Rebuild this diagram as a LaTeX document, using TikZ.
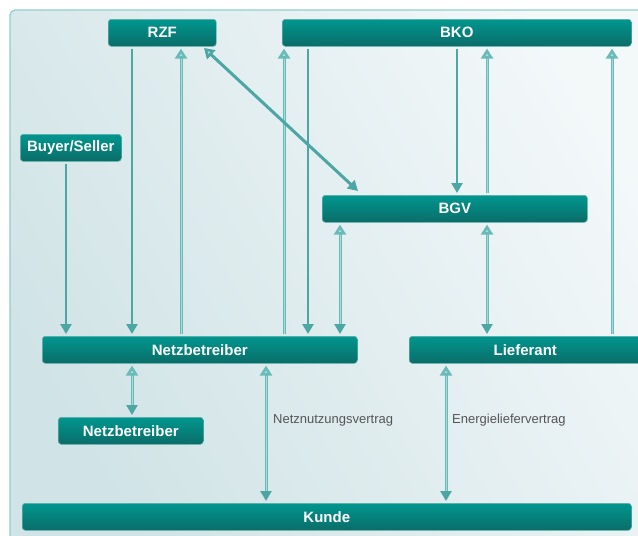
\documentclass[tikz,border=0pt]{standalone}
\usepackage{fontspec}
\setmainfont{Liberation Sans}
\usetikzlibrary{arrows.meta}
\definecolor{panelA}{HTML}{D0E3E6}
\definecolor{panelB}{HTML}{F3F8F9}
\definecolor{panelE}{HTML}{8ED0CD}
\definecolor{boxT}{HTML}{00978F}
\definecolor{boxB}{HTML}{0B6C68}
\definecolor{boxE}{HTML}{5FB0AD}
\definecolor{downC}{HTML}{4BA6A4}
\definecolor{upC}{HTML}{69BBB9}
\definecolor{upIn}{HTML}{A9DAD8}
\definecolor{lblC}{HTML}{555555}
\tikzset{
  x=1pt, y=-1pt,
  box/.style={rounded corners=3pt, top color=boxT, bottom color=boxB, draw=boxE, line width=0.6pt,
    text=white, font=\fontsize{15}{15}\selectfont\bfseries, inner sep=0pt,
    minimum height=27pt, anchor=north west},
  downar/.style={draw=downC, line width=2.6pt, shorten <=2pt, shorten >=2pt,
    -{Triangle[length=10pt,width=11pt]}},
  upar/.style={draw=upC, line width=3pt, shorten <=2pt, shorten >=2pt,
    -{Triangle[length=10pt,width=12pt,fill=upIn]},
    postaction={draw=upIn, line width=1pt, -, shorten >=12pt, shorten <=2pt}},
  bothar/.style={draw=upC, line width=3pt, shorten <=2pt, shorten >=2pt,
    {Triangle[length=10pt,width=12pt,fill=upIn]}-{Triangle[length=10pt,width=11pt,color=downC]},
    postaction={draw=upIn, line width=1pt, -, shorten >=12pt, shorten <=12pt}},
  diagar/.style={draw=downC, line width=3pt,
    {Triangle[length=10pt,width=12pt,fill=upIn]}-{Triangle[length=10pt,width=11pt]}},
  lbl/.style={text=lblC, font=\fontsize{13}{13}\selectfont, anchor=west, inner sep=0pt}
}
\begin{document}
\begin{tikzpicture}
\useasboundingbox (0,0) rectangle (638,536);
\fill[white] (0,0) rectangle (638,536);
\begin{scope}
\clip (0,0) rectangle (638,536);
\draw[panelE, line width=1.2pt, rounded corners=5pt, shading=axis, left color=panelA, right color=panelB, shading angle=120]
  (10,10) rectangle (660,560);
\end{scope}

% boxes
\node[box, minimum width=108pt] (rzf) at (108,19) {RZF};
\node[box, minimum width=349pt] (bko) at (282,19) {BKO};
\node[box, minimum width=101pt] (bs) at (20,134) {Buyer/Seller};
\node[box, minimum width=265pt] (bgv) at (322,195) {BGV};
\node[box, minimum width=315pt] (nb) at (42,336) {Netzbetreiber};
\node[box, minimum width=232pt] (lf) at (409,336) {Lieferant};
\node[box, minimum width=145pt] (nb2) at (58,417) {Netzbetreiber};
\node[box, minimum width=609pt] (kd) at (22,503) {Kunde};

% x positions
\coordinate (c66) at (66,0);
\coordinate (c132) at (132,0);
\coordinate (c181) at (181,0);
\coordinate (c266) at (266,0);
\coordinate (c284) at (284,0);
\coordinate (c308) at (308,0);
\coordinate (c340) at (340,0);
\coordinate (c446) at (446,0);
\coordinate (c457) at (457,0);
\coordinate (c487) at (487,0);
\coordinate (c612) at (612,0);
\coordinate (dA) at (204,48);
\coordinate (dB) at (358,191);

% connectors
\draw[downar] (rzf.south -| c132) -- (nb.north -| c132);
\draw[upar] (nb.north -| c181) -- (rzf.south -| c181);
\draw[downar] (bs.south -| c66) -- (nb.north -| c66);
\draw[upar] (nb.north -| c284) -- (bko.south -| c284);
\draw[downar] (bko.south -| c308) -- (nb.north -| c308);
\draw[bothar] (bgv.south -| c340) -- (nb.north -| c340);
\draw[downar] (bko.south -| c457) -- (bgv.north -| c457);
\draw[upar] (bgv.north -| c487) -- (bko.south -| c487);
\draw[bothar] (bgv.south -| c487) -- (lf.north -| c487);
\draw[upar] (lf.north -| c612) -- (bko.south -| c612);
\draw[diagar] (dA) -- (dB);
\draw[bothar] (nb.south -| c132) -- (nb2.north -| c132);
\draw[bothar] (nb.south -| c266) -- (kd.north -| c266);
\draw[bothar] (lf.south -| c446) -- (kd.north -| c446);

\node[lbl] (l1) at (273,420) {Netznutzungsvertrag};
\node[lbl] (l2) at (452,420) {Energieliefervertrag};
\end{tikzpicture}
\end{document}
